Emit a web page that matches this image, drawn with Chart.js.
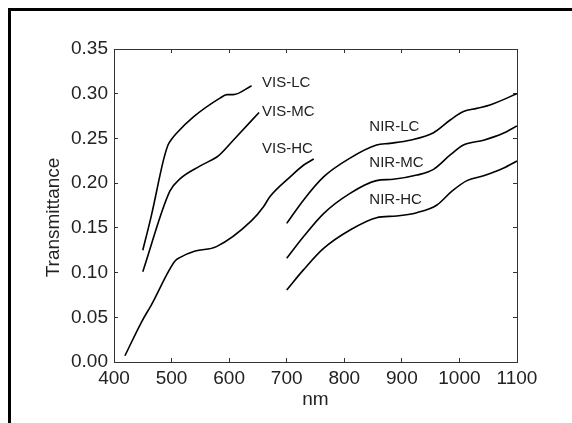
<!DOCTYPE html>
<html><head><meta charset="utf-8">
<script src="https://cdn.jsdelivr.net/npm/chart.js@4"></script>
<style>html,body{margin:0;padding:0;background:#fff}canvas{display:block}</style>
</head><body>
<canvas id="c" width="572" height="423"></canvas>
<script>
// ---- data ----
const visLC_nm = [450, 465, 486, 494, 500, 509, 538, 584, 596, 607, 639];
const visLC_T  = [0.125, 0.164, 0.226, 0.243, 0.249, 0.256, 0.274, 0.295, 0.299, 0.299, 0.309];
const visMC_nm = [450, 497, 515, 549, 578, 584, 610, 652];
const visMC_T  = [0.101, 0.191, 0.205, 0.219, 0.229, 0.232, 0.250, 0.279];
const visHC_nm = [419, 448, 465, 506, 515, 541, 578, 639, 659, 671, 706, 729, 747];
const visHC_T  = [0.007, 0.045, 0.064, 0.113, 0.117, 0.124, 0.129, 0.158, 0.173, 0.185, 0.207, 0.220, 0.227];
const nirLC_nm = [700, 729, 764, 810, 856, 879, 914, 955, 984, 1007, 1030, 1053, 1100];
const nirLC_T  = [0.155, 0.181, 0.207, 0.228, 0.2426, 0.2445, 0.248, 0.2564, 0.2706, 0.280, 0.2836, 0.2874, 0.300];
const nirMC_nm = [700, 729, 764, 810, 856, 885, 926, 955, 984, 1007, 1042, 1076, 1100];
const nirMC_T  = [0.116, 0.140, 0.166, 0.1886, 0.2028, 0.2043, 0.209, 0.2154, 0.2315, 0.2426, 0.248, 0.2557, 0.264];
const nirHC_nm = [700, 729, 764, 810, 856, 891, 926, 961, 987, 1013, 1042, 1076, 1100];
const nirHC_T  = [0.0805, 0.103, 0.127, 0.1476, 0.1614, 0.1633, 0.167, 0.1756, 0.191, 0.2028, 0.2083, 0.2166, 0.2247];

const seriesNames = ['VIS-LC', 'VIS-MC', 'VIS-HC', 'NIR-LC', 'NIR-MC', 'NIR-HC'];
const xTickValues = [400, 500, 600, 700, 800, 900, 1000, 1100];
const yTickValues = [0.00, 0.05, 0.10, 0.15, 0.20, 0.25, 0.30, 0.35];
const xTitle = 'nm';
const yTitle = 'Transmittance';

// label anchors (data units: left edge nm, vertical centre T)
const labelNm = [657, 657, 657, 843.5, 843.5, 843.5];
const labelT  = [0.3116, 0.280, 0.238, 0.2624, 0.2229, 0.1811];

// ---- build ----
const seriesNm = [visLC_nm, visMC_nm, visHC_nm, nirLC_nm, nirMC_nm, nirHC_nm];
const seriesT  = [visLC_T, visMC_T, visHC_T, nirLC_T, nirMC_T, nirHC_T];
const FONT = '"Liberation Sans", Arial, Helvetica, sans-serif';
const TEXT = '#222';
const AXIS = '#333';

const datasets = seriesNames.map((n, i) => ({
  label: n,
  data: seriesNm[i].map((v, j) => ({x: v, y: seriesT[i][j]})),
  borderColor: '#000',
  borderWidth: 1.6,
  pointRadius: 0,
  fill: false,
  cubicInterpolationMode: 'monotone',
  xAxisID: 'x', yAxisID: 'y'
}));

const setX = s => { s.ticks = xTickValues.map(v => ({value: v})); };
const setY = s => { s.ticks = yTickValues.map(v => ({value: v})); };

const grid = {display: true, drawOnChartArea: false, drawTicks: true, tickLength: -4, color: AXIS, lineWidth: 1};
const border = {display: true, color: AXIS, width: 1};

const decor = {
  id: 'decor',
  beforeDraw(chart) {
    const ctx = chart.ctx;
    ctx.save();
    ctx.fillStyle = '#fff';
    ctx.fillRect(0, 0, chart.width, chart.height);
    ctx.fillStyle = '#000';
    ctx.fillRect(8, 8, chart.width - 8, 3);
    ctx.fillRect(8, 8, 3, chart.height - 8);
    ctx.restore();
  },
  afterDatasetsDraw(chart) {
    const {ctx, scales: {x, y}, chartArea} = chart;
    ctx.save();
    ctx.fillStyle = TEXT;
    ctx.font = '15px ' + FONT;
    ctx.textBaseline = 'middle';
    ctx.textAlign = 'left';
    seriesNames.forEach((n, i) => {
      ctx.fillText(n, x.getPixelForValue(labelNm[i]), y.getPixelForValue(labelT[i]));
    });
    ctx.font = '19px ' + FONT;
    ctx.textAlign = 'center';
    ctx.translate(53.6, (chartArea.top + chartArea.bottom) / 2 + 12);
    ctx.rotate(-Math.PI / 2);
    ctx.fillText(yTitle, 0, 0);
    ctx.restore();
  }
};

new Chart(document.getElementById('c'), {
  type: 'line',
  data: {datasets},
  options: {
    responsive: false,
    animation: false,
    devicePixelRatio: 1,
    layout: {padding: {top: 34, right: 30, bottom: 0, left: 0}},
    plugins: {legend: {display: false}, tooltip: {enabled: false}},
    scales: {
      x: {
        type: 'linear', position: 'bottom', min: 400, max: 1100,
        afterBuildTicks: setX,
        afterFit: s => { s.height = 61; },
        grid, border,
        ticks: {color: TEXT, font: {family: FONT, size: 19}, padding: 9, maxRotation: 0,
                callback: v => String(v)},
        title: {display: true, text: xTitle, color: TEXT, font: {family: FONT, size: 19},
                padding: {top: 0, bottom: 12}}
      },
      y: {
        type: 'linear', position: 'left', min: 0, max: 0.35,
        afterBuildTicks: setY,
        afterFit: s => { s.width = 114; },
        grid, border,
        ticks: {color: TEXT, font: {family: FONT, size: 19}, padding: 10,
                callback: v => Number(v).toFixed(2)}
      },
      x2: {
        type: 'linear', position: 'top', min: 400, max: 1100,
        afterBuildTicks: setX,
        afterFit: s => { s.height = 15; },
        grid, border,
        ticks: {display: false}
      },
      y2: {
        type: 'linear', position: 'right', min: 0, max: 0.35,
        afterBuildTicks: setY,
        afterFit: s => { s.width = 25; },
        grid, border,
        ticks: {display: false}
      }
    }
  },
  plugins: [decor]
});
</script>
</body></html>
